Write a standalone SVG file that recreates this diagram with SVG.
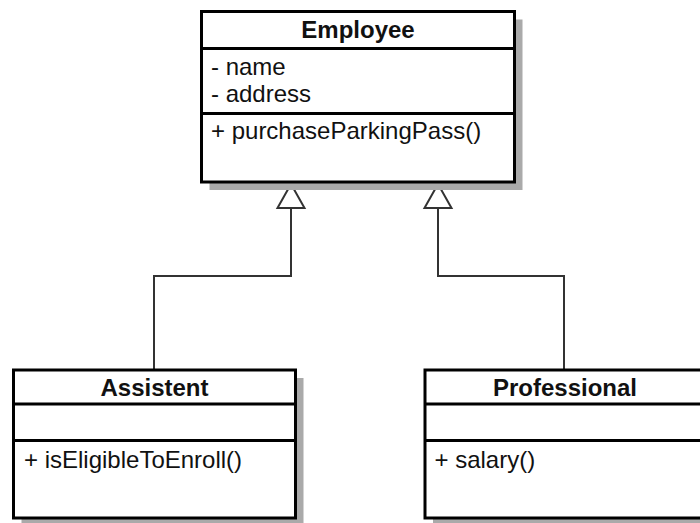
<svg xmlns="http://www.w3.org/2000/svg" width="700" height="523" viewBox="0 0 700 523">
  <style>
    .shadow { fill: #aaaaaa; }
    .box { fill: #ffffff; stroke: #000000; stroke-width: 3; }
    .div { stroke: #000000; stroke-width: 3; }
    .title { font-family: "Liberation Sans", Arial, sans-serif; font-size: 24px; font-weight: bold; text-anchor: middle; fill: #111; }
    .member { font-family: "Liberation Sans", Arial, sans-serif; font-size: 24px; fill: #111; }
    .edge { fill: none; stroke: #333333; stroke-width: 2; }
  </style>
  <defs>
    <!-- hollow triangle for generalization (inheritance) -->
    <marker id="inherit" markerUnits="userSpaceOnUse" viewBox="-2 -16 28 32" refX="24" refY="0" markerWidth="28" markerHeight="32" orient="auto" overflow="visible">
      <path d="M24,0 L0,-13.5 L0,13.5 Z" fill="#ffffff" stroke="#333333" stroke-width="2"/>
    </marker>
  </defs>

  <rect width="700" height="523" fill="#ffffff"/>

  <!-- connectors -->
  <g id="connectors">
    <path class="edge" d="M154,370 V276 H291 V184" marker-end="url(#inherit)"/>
    <path class="edge" d="M564,370 V276 H438 V184" marker-end="url(#inherit)"/>
  </g>

  <!-- Employee class -->
  <g id="employee">
    <rect class="shadow" x="209.5" y="19.5" width="313" height="170.5"/>
    <rect class="box" x="201.5" y="11.5" width="313" height="170.5"/>
    <line class="div" x1="201.5" y1="48.5" x2="514.5" y2="48.5"/>
    <line class="div" x1="201.5" y1="113.5" x2="514.5" y2="113.5"/>
    <text class="title" x="358" y="38">Employee</text>
    <text class="member" x="211" y="75">- name</text>
    <text class="member" x="211" y="102">- address</text>
    <text class="member" x="211" y="139">+ purchaseParkingPass()</text>
  </g>

  <!-- Assistent class -->
  <g id="assistent">
    <rect class="shadow" x="21.5" y="378" width="282" height="148"/>
    <rect class="box" x="13.5" y="370" width="282" height="148"/>
    <line class="div" x1="13.5" y1="404" x2="295.5" y2="404"/>
    <line class="div" x1="13.5" y1="440.5" x2="295.5" y2="440.5"/>
    <text class="title" x="154.5" y="396">Assistent</text>
    <text class="member" x="24" y="468">+ isEligibleToEnroll()</text>
  </g>

  <!-- Professional class -->
  <g id="professional">
    <rect class="shadow" x="433" y="378" width="282" height="148"/>
    <rect class="box" x="425" y="370" width="282" height="148"/>
    <line class="div" x1="425" y1="404" x2="707" y2="404"/>
    <line class="div" x1="425" y1="440.5" x2="707" y2="440.5"/>
    <text class="title" x="565" y="396">Professional</text>
    <text class="member" x="434.5" y="468">+ salary()</text>
  </g>
</svg>
